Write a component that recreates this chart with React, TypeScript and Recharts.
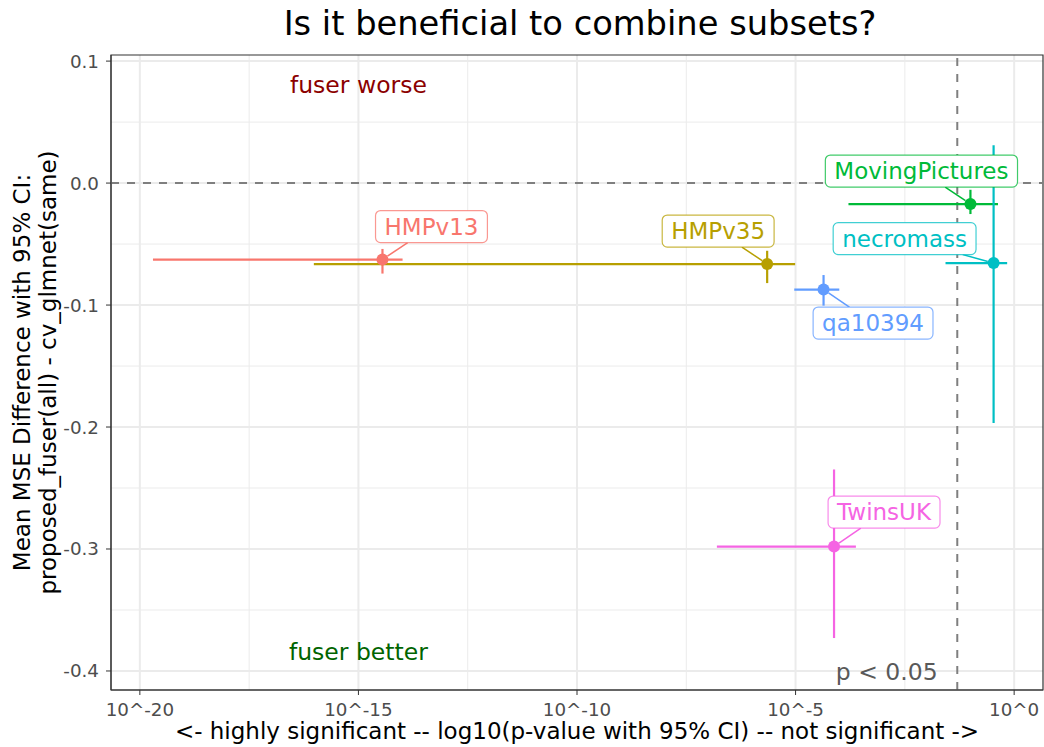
import React from "react";
import {
  ScatterChart,
  Scatter,
  XAxis,
  YAxis,
  CartesianGrid,
  ErrorBar,
  ReferenceLine,
  ReferenceArea,
  ReferenceDot,
} from "recharts";

// values (x = log10 p-value, y = mean MSE difference)
const datasets = ["HMPv13", "HMPv35", "MovingPictures", "necromass", "qa10394", "TwinsUK"];
const log10P = [-14.45, -5.65, -1.0, -0.47, -4.36, -4.12];
const log10PLow = [-19.7, -16.02, -3.79, -1.57, -5.03, -6.8];
const log10PHigh = [-13.99, -5.01, -0.37, -0.16, -4.0, -3.62];
const mseDiff = [-0.0627, -0.0664, -0.0172, -0.0656, -0.0873, -0.298];
const mseLow = [-0.0742, -0.082, -0.0254, -0.1967, -0.1005, -0.373];
const mseHigh = [-0.054, -0.0555, -0.0055, 0.031, -0.0754, -0.2348];

const xTicks = [-20, -15, -10, -5, 0];
const xMinorTicks = [-17.5, -12.5, -7.5, -2.5];
const yTicks = [-0.4, -0.3, -0.2, -0.1, 0, 0.1];
const yMinorTicks = [-0.35, -0.25, -0.15, -0.05, 0.05];

const notes = ["fuser worse", "fuser better", "p < 0.05"];
const noteX = [-15, -15, -1.75];
const noteY = [0.0805, -0.3845, -0.4005];

const pCutoff = Math.log10(0.05);

// ggplot hue palette
const colors: Record<string, string> = {
  HMPv13: "#F8766D",
  HMPv35: "#B79F00",
  MovingPictures: "#00BA38",
  necromass: "#00BFC4",
  qa10394: "#619CFF",
  TwinsUK: "#F564E3",
};
const noteColors = ["#8B0000", "#006400", "#595959"];
const noteAnchor = ["middle", "middle", "end"];

// where the repelled labels ended up, in pixels from their point
const labelNudge: Record<string, [number, number]> = {
  HMPv13: [49, -33],
  HMPv35: [-49, -33],
  MovingPictures: [-49, -33],
  necromass: [-89, -24.5],
  qa10394: [49.5, 33.5],
  TwinsUK: [50, -34.5],
};

const FONT = '"DejaVu Sans", sans-serif';
const W = 1044;
const H = 747;
const TICK_FS = 18.3;
const TITLE_FS = 23;

const rows = datasets.map((name, i) => ({
  name,
  x: log10P[i],
  y: mseDiff[i],
  xErr: [log10P[i] - log10PLow[i], log10PHigh[i] - log10P[i]],
  yErr: [mseDiff[i] - mseLow[i], mseHigh[i] - mseDiff[i]],
}));

let ctx: CanvasRenderingContext2D | null = null;
const textWidth = (s: string, size: number) => {
  if (!ctx) ctx = document.createElement("canvas").getContext("2d");
  if (!ctx) return s.length * size * 0.6;
  ctx.font = `${size}px "DejaVu Sans"`;
  return ctx.measureText(s).width;
};

const Dot = (props: any) => {
  const { cx, cy, payload } = props;
  if (cx == null || cy == null) return null;
  return <circle cx={cx} cy={cy} r={6} fill={colors[payload.name]} />;
};

const RepelLabel = (props: any) => {
  const { cx, cy, payload } = props;
  if (cx == null || cy == null) return null;
  const name = payload.name;
  const c = colors[name];
  const [ndx, ndy] = labelNudge[name];
  const fs = 23;
  const bw = textWidth(name, fs) + 18;
  const bh = 32;
  const bx = cx + ndx;
  const by = cy + ndy;
  // segment from point toward the box, stopping at the box edge
  const dx = cx - bx;
  const dy = cy - by;
  const t = Math.min(bw / 2 / Math.abs(dx || 1e-6), bh / 2 / Math.abs(dy || 1e-6));
  const ex = bx + dx * t;
  const ey = by + dy * t;
  const len = Math.hypot(dx, dy);
  const sx = cx - (dx / len) * 6;
  const sy = cy - (dy / len) * 6;
  return (
    <g>
      <line x1={sx} y1={sy} x2={ex} y2={ey} stroke={c} strokeWidth={1.5} />
      <rect
        x={bx - bw / 2}
        y={by - bh / 2}
        width={bw}
        height={bh}
        rx={5}
        fill="#fff"
        stroke={c}
        strokeOpacity={0.75}
        strokeWidth={1.2}
      />
      <text
        x={bx}
        y={by}
        textAnchor="middle"
        dominantBaseline="central"
        fontFamily={FONT}
        fontSize={fs}
        fill={c}
      >
        {name}
      </text>
    </g>
  );
};

const YTitle = (props: any) => {
  const vb = props.viewBox || { x: 0, y: 55, width: 111, height: 635 };
  const cy = vb.y + vb.height / 2;
  return (
    <g fontFamily={FONT} fontSize={TITLE_FS} fill="#000">
      <text x={22} y={cy} transform={`rotate(-90, 22, ${cy})`} textAnchor="middle" dominantBaseline="central">
        Mean MSE Difference with 95% CI:
      </text>
      <text x={48} y={cy} transform={`rotate(-90, 48, ${cy})`} textAnchor="middle" dominantBaseline="central">
        proposed_fuser(all) - cv_glmnet(same)
      </text>
    </g>
  );
};

export default function App() {
  return (
    <div style={{ position: "absolute", left: 0, top: 0, width: W, height: H, background: "#fff" }}>
      <ScatterChart width={W} height={H} margin={{ top: 55, right: 1, bottom: 0, left: 0 }}>
        <CartesianGrid
          stroke="#EBEBEB"
          strokeWidth={1}
          horizontalValues={yMinorTicks}
          verticalValues={xMinorTicks}
        />
        <CartesianGrid stroke="#EBEBEB" strokeWidth={2} horizontalValues={yTicks} verticalValues={xTicks} />
        <XAxis
          type="number"
          dataKey="x"
          domain={[-20.66, 0.66]}
          allowDataOverflow
          ticks={xTicks}
          tickFormatter={(v: number) => `10^${v}`}
          height={57}
          tickSize={5}
          tickMargin={8}
          stroke="#333333"
          tick={{ fill: "#4D4D4D", fontSize: TICK_FS, fontFamily: FONT }}
          label={{
            value: "<- highly significant -- log10(p-value with 95% CI) -- not significant ->",
            position: "insideBottom",
            offset: 8,
            fill: "#000",
            fontSize: TITLE_FS,
            fontFamily: FONT,
          }}
        />
        <YAxis
          type="number"
          dataKey="y"
          domain={[-0.4156, 0.105]}
          allowDataOverflow
          ticks={yTicks}
          tickFormatter={(v: number) => v.toFixed(1)}
          width={111}
          tickSize={5}
          tickMargin={7}
          stroke="#333333"
          tick={{ fill: "#4D4D4D", fontSize: TICK_FS, fontFamily: FONT }}
          label={{ content: YTitle }}
        />
        <ReferenceArea
          x1={-20.66}
          x2={0.66}
          y1={-0.4156}
          y2={0.105}
          fill="none"
          stroke="#333333"
          strokeWidth={1.2}
          ifOverflow="visible"
        />
        <ReferenceLine y={0} stroke="#7F7F7F" strokeWidth={2} strokeDasharray="8 8" />
        <ReferenceLine x={pCutoff} stroke="#7F7F7F" strokeWidth={2} strokeDasharray="8 8" />
        {notes.map((s, i) => (
          <ReferenceDot
            key={s}
            x={noteX[i]}
            y={noteY[i]}
            r={0}
            ifOverflow="visible"
            shape={(p: any) => (
              <text
                x={p.cx}
                y={p.cy}
                textAnchor={noteAnchor[i] as any}
                dominantBaseline="central"
                fontFamily={FONT}
                fontSize={23.5}
                fill={noteColors[i]}
              >
                {s}
              </text>
            )}
          />
        ))}
        {rows.map((r) => (
          <Scatter key={r.name} name={r.name} data={[r]} shape={Dot} isAnimationActive={false}>
            <ErrorBar dataKey="xErr" direction="x" width={0} stroke={colors[r.name]} strokeWidth={2.2} isAnimationActive={false} />
            <ErrorBar dataKey="yErr" direction="y" width={0} stroke={colors[r.name]} strokeWidth={2.2} isAnimationActive={false} />
          </Scatter>
        ))}
        <Scatter data={rows} shape={RepelLabel} isAnimationActive={false} />
      </ScatterChart>
      <svg width={W} height={50} style={{ position: "absolute", left: 0, top: 0, pointerEvents: "none" }}>
        <text x={580} y={35} textAnchor="middle" fontFamily={FONT} fontSize={33.7} fill="#000">
          Is it beneficial to combine subsets?
        </text>
      </svg>
    </div>
  );
}
